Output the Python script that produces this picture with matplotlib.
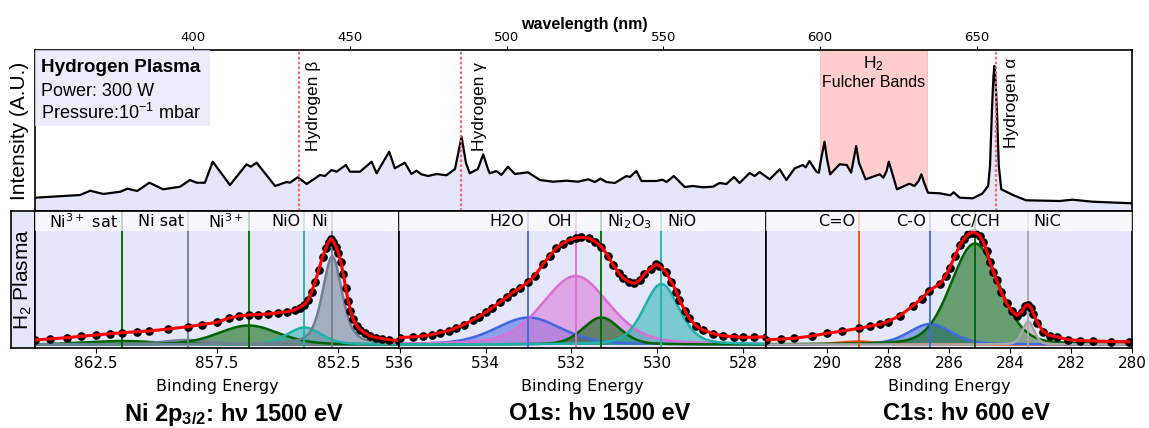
import numpy as np
import matplotlib
matplotlib.use('Agg')
import matplotlib.pyplot as plt
from matplotlib.patches import Rectangle

plt.rcParams['font.family'] = ['Liberation Sans', 'DejaVu Sans']
plt.rcParams['mathtext.fontset'] = 'custom'
plt.rcParams['mathtext.rm'] = 'Liberation Sans'
plt.rcParams['mathtext.bf'] = 'Liberation Sans:bold'
plt.rcParams['mathtext.it'] = 'Liberation Sans:italic'

# ---------------- Optical emission spectrum (top) ----------------
oes_wavelength = [349.5, 363.9, 367.1, 371.3, 376.7, 379.0, 382.1, 386.0, 390.4, 395.8,
                  398.9, 401.1, 403.7, 406.2, 411.7, 417.0, 418.3, 420.2, 426.1, 429.8,
                  430.8, 433.3, 436.2, 440.4, 442.0, 444.1, 445.7, 448.7, 450.0, 453.2,
                  456.9, 458.5, 462.5, 464.3, 467.5, 469.6, 471.2, 472.8, 474.9, 477.6,
                  480.8, 483.5, 485.6, 487.0, 488.2, 490.8, 492.5, 494.0, 494.6, 496.7,
                  498.3, 500.4, 502.6, 506.8, 510.6, 514.8, 519.1, 522.8, 526.0, 528.1,
                  529.9, 531.8, 534.5, 538.2, 539.3, 541.4, 543.0, 547.8, 549.7, 551.0,
                  553.3, 556.8, 559.4, 562.6, 565.8, 567.9, 570.1, 572.5, 574.3, 577.5,
                  579.1, 580.7, 583.9, 587.1, 589.2, 591.9, 594.5, 595.4, 596.6, 598.8,
                  599.6, 600.3, 601.4, 602.2, 603.2, 606.2, 608.5, 609.9, 610.6, 611.5,
                  612.4, 614.5, 619.0, 620.2, 621.2, 621.9, 622.8, 624.5, 628.5, 630.1,
                  631.4, 632.3, 633.2, 634.4, 638.1, 641.5, 642.6, 644.5, 648.7, 651.7,
                  653.6, 654.2, 654.8, 655.3, 655.6, 655.9, 656.4, 657.0, 657.8, 661.5,
                  665.7, 676.4, 680.5, 686.9, 699.5]
oes_intensity = [13.3, 16.0, 20.3, 17.0, 19.3, 22.3, 20.0, 28.3, 21.7, 24.3,
                 31.0, 28.3, 28.3, 49.3, 26.0, 46.7, 44.3, 48.3, 25.0, 29.0,
                 28.3, 33.7, 27.0, 36.0, 35.0, 41.0, 39.3, 46.0, 39.3, 39.3,
                 49.3, 37.7, 59.3, 42.7, 48.3, 37.0, 40.3, 36.7, 35.0, 37.0,
                 35.7, 42.0, 74.3, 48.0, 37.7, 42.0, 56.7, 42.0, 37.7, 40.0,
                 36.0, 44.3, 37.0, 38.7, 31.0, 29.3, 30.3, 29.3, 31.7, 29.0,
                 32.3, 29.0, 28.0, 35.0, 34.0, 40.0, 30.0, 30.0, 31.3, 29.0,
                 35.0, 24.0, 25.0, 23.7, 24.3, 28.0, 27.0, 34.0, 28.0, 38.0,
                 35.0, 39.0, 31.7, 41.7, 31.0, 42.7, 46.0, 43.7, 50.0, 39.3,
                 38.3, 52.0, 69.3, 52.0, 36.7, 46.7, 46.0, 38.3, 50.0, 65.0,
                 48.0, 31.7, 36.7, 33.3, 40.0, 49.3, 40.0, 21.7, 27.3, 25.0,
                 30.0, 36.7, 28.0, 18.3, 17.7, 15.7, 18.7, 13.3, 12.7, 17.3,
                 25.0, 45.0, 100.0, 135.0, 145.0, 135.0, 100.0, 45.0, 21.7, 16.0,
                 10.7, 10.0, 11.3, 9.3, 7.7]
h_lines = [433.6, 485.5, 656.2]
h_line_labels = ['Hydrogen β', 'Hydrogen γ', 'Hydrogen α']
h_label_wl = [438.3, 491.4, 661.1]
h_label_y = [0.373, 0.373, 0.391]
fulcher_range = [600.0, 634.0]
top_ticks = [400, 450, 500, 550, 600, 650]

# ---------------- XPS: Ni 2p3/2 ----------------
ni_energy = [865.0, 864.4, 863.7, 863.1, 862.5, 861.9, 861.4, 860.8, 860.3, 859.5,
             858.7, 858.1, 857.5, 857.0, 856.6, 856.2, 855.8, 855.4, 855.0, 854.6,
             854.3, 854.1, 853.9, 853.75, 853.6, 853.45, 853.3, 853.15, 853.0, 852.9,
             852.8, 852.7, 852.6, 852.5, 852.4, 852.3, 852.2, 852.1, 852.0, 851.9,
             851.75, 851.6, 851.4, 851.2, 850.95, 850.7, 850.4, 850.0]
ni_counts = [4.5, 5.6, 6.8, 8.2, 9.5, 10.8, 11.8, 12.8, 13.5, 15.5,
             17.8, 20.0, 22.2, 26.5, 28.5, 29.5, 30.0, 30.5, 31.8, 32.8,
             34.5, 37.0, 40.0, 44.5, 53.0, 63.0, 75.0, 88.0, 97.0, 102.5,
             105.8, 103.0, 98.0, 92.0, 83.0, 71.0, 57.0, 44.0, 34.0, 26.0,
             19.0, 15.0, 11.5, 8.5, 7.0, 6.0, 4.8, 3.8]
ni_labels = ['Ni$^{3+}$ sat', 'Ni sat', 'Ni$^{3+}$', 'NiO', 'Ni']
ni_centers = [861.4, 858.7, 856.2, 853.9, 852.75]
ni_heights = [3.5, 4.5, 19.0, 17.0, 88.0]
ni_fwhm = [3.5, 2.5, 2.9, 1.65, 0.95]
ni_lorentz = [0.2, 0.2, 0.2, 0.3, 0.5]
ni_colors = ['darkgreen', 'slategray', 'darkgreen', 'lightseagreen', 'slategray']
ni_align = ['right', 'right', 'right', 'right', 'right']
ni_ticks = [862.5, 857.5, 852.5]

# ---------------- XPS: O1s ----------------
o_energy = [536.0, 535.7, 535.46, 535.25, 535.07, 534.85, 534.68, 534.5, 534.3, 534.15,
            534.0, 533.85, 533.67, 533.5, 533.36, 533.2, 533.0, 532.85, 532.66, 532.5,
            532.35, 532.2, 532.04, 531.9, 531.77, 531.58, 531.45, 531.3, 531.15, 531.03,
            530.9, 530.8, 530.65, 530.53, 530.4, 530.3, 530.15, 530.02, 529.95, 529.8,
            529.67, 529.55, 529.48, 529.35, 529.25, 529.1, 528.93, 528.7, 528.47, 528.2,
            528.0, 527.75, 527.46]
o_counts = [6.8, 7.6, 8.5, 10.0, 11.8, 14.0, 16.8, 20.0, 24.5, 28.0,
            32.2, 36.5, 42.2, 47.5, 52.2, 56.5, 62.8, 69.0, 80.2, 89.0,
            96.2, 101.0, 104.5, 106.5, 107.2, 106.2, 103.0, 97.8, 89.0, 79.5,
            72.0, 66.8, 62.5, 61.2, 64.5, 70.2, 76.0, 80.2, 78.8, 73.0,
            62.8, 53.0, 44.5, 34.0, 26.2, 19.0, 14.5, 11.0, 8.8, 7.8,
            7.2, 7.2, 7.8]
o_labels = ['H2O', 'OH', 'Ni$_2$O$_3$', 'NiO']
o_centers = [533.0, 531.9, 531.3, 529.9]
o_heights = [27.0, 68.5, 27.0, 60.5]
o_fwhm = [1.8, 1.82, 1.0, 0.97]
o_lorentz = [0.3, 0.3, 0.2, 0.3]
o_colors = ['royalblue', 'orchid', 'darkgreen', 'lightseagreen']
o_align = ['right', 'right', 'left', 'left']
o_ticks = [536, 534, 532, 530, 528]

# ---------------- XPS: C1s ----------------
c_energy = [292.0, 291.5, 291.09, 290.5, 290.0, 289.5, 288.94, 288.6, 288.26, 288.0,
            287.6, 287.17, 286.9, 286.64, 286.29, 286.1, 285.97, 285.8, 285.64, 285.5,
            285.37, 285.25, 285.15, 285.0, 284.88, 284.77, 284.66, 284.55, 284.44, 284.3,
            284.11, 283.95, 283.78, 283.62, 283.5, 283.42, 283.3, 283.24, 283.1, 282.91,
            282.7, 282.47, 282.1, 281.7, 281.28, 280.7, 280.1]
c_counts = [4.5, 5.5, 6.2, 8.5, 11.2, 13.5, 16.2, 18.2, 20.2, 23.0,
            29.0, 39.0, 46.0, 54.0, 61.0, 69.0, 77.0, 89.0, 99.5, 106.0,
            110.3, 112.0, 112.0, 109.0, 103.0, 94.0, 83.0, 73.0, 64.5, 53.0,
            41.2, 34.0, 29.0, 32.5, 38.5, 40.0, 36.5, 31.0, 22.0, 12.8,
            9.0, 7.8, 4.8, 4.0, 3.5, 3.0, 2.8]
c_labels = ['C=O', 'C-O', 'CC/CH', 'NiC']
c_centers = [288.95, 286.62, 285.15, 283.4]
c_heights = [3.0, 20.5, 101.0, 23.0]
c_fwhm = [1.5, 1.64, 1.85, 0.45]
c_lorentz = [0.2, 0.3, 0.2, 0.3]
c_colors = ['orangered', 'royalblue', 'darkgreen', 'darkgray']
c_align = ['right', 'right', 'center', 'left']
c_ticks = [290, 288, 286, 284, 282, 280]

W, H = 1149, 428
fig = plt.figure(figsize=(W / 100, H / 100), dpi=100)


def box(x0, y0, x1, y1):
    return [x0 / W, (H - y1) / H, (x1 - x0) / W, (y1 - y0) / H]


LAV = '#e6e6fa'

# ---------------- top panel ----------------
ax = fig.add_axes(box(35, 50, 1132, 211))
ax.fill_between(oes_wavelength, 0, oes_intensity, color=LAV, zorder=1)
ax.plot(oes_wavelength, oes_intensity, color='black', lw=1.6, zorder=3,
        solid_joinstyle='round')
ax.axvspan(fulcher_range[0], fulcher_range[1], color='#ff9c9c', alpha=0.5, lw=0.8,
           zorder=0.5)
for wl, lab, lx, ly in zip(h_lines, h_line_labels, h_label_wl, h_label_y):
    ax.axvline(wl, color='#f26b6b', ls=(0, (1.2, 1.0)), lw=1.6, zorder=4)
    ax.text(lx, ly, lab, rotation=90, ha='center', va='bottom', fontsize=12.5,
            transform=ax.get_xaxis_transform())
ax.text(sum(fulcher_range) / 2, 0.915, 'H$_2$', ha='center', va='center', fontsize=12.5,
        transform=ax.get_xaxis_transform())
ax.text(sum(fulcher_range) / 2, 0.80, 'Fulcher Bands', ha='center', va='center',
        fontsize=11.5, transform=ax.get_xaxis_transform())
ax.add_patch(Rectangle((0, 0.528), 0.1595, 0.472, transform=ax.transAxes,
                       facecolor=LAV, alpha=0.75, edgecolor='none', zorder=5))
ax.text(0.0055, 0.863, 'Hydrogen Plasma', transform=ax.transAxes, fontsize=13.6,
        fontweight='bold', va='baseline', zorder=6)
ax.text(0.0055, 0.714, 'Power: 300 W', transform=ax.transAxes, fontsize=13,
        va='baseline', zorder=6)
ax.text(0.0055, 0.571, 'Pressure:10$^{-1}$ mbar', transform=ax.transAxes, fontsize=13,
        va='baseline', zorder=6)
ax.set_xlim(349.5, 699.5)
ax.set_ylim(0, 161)
ax.set_yticks([])
ax.xaxis.tick_top()
ax.set_xticks(top_ticks)
ax.tick_params(axis='x', labelsize=9.5, length=3, pad=1.5, labelfontfamily='DejaVu Sans')
ax.set_ylabel('Intensity (A.U.)', fontsize=15, labelpad=4)
for s in ax.spines.values():
    s.set_linewidth(1.2)
fig.text(584.5 / W, (H - 24) / H, 'wavelength (nm)', ha='center', va='center',
         fontsize=11.5, fontweight='bold')

# ---------------- H2 plasma label ----------------
lab_ax = fig.add_axes(box(11, 211, 35, 347.5))
lab_ax.set_facecolor(LAV)
lab_ax.set_xticks([])
lab_ax.set_yticks([])
for s in lab_ax.spines.values():
    s.set_linewidth(1.2)
lab_ax.text(0.5, 0.5, 'H$_2$ Plasma', rotation=90, ha='center', va='center',
            fontsize=15, transform=lab_ax.transAxes)


def pv(x, c, a, w, eta):
    g = np.exp(-4 * np.log(2) * ((x - c) / w) ** 2)
    lo = 1.0 / (1.0 + 4 * ((x - c) / w) ** 2)
    return a * ((1 - eta) * g + eta * lo)


def xps_panel(rect, xlim, energy, counts, labels, centers, heights, fwhm, lor, colors,
              align, ticks, title, title_x):
    a = fig.add_axes(rect)
    a.set_facecolor(LAV)
    xs = np.linspace(min(xlim), max(xlim), 800)
    for lab, c, h, w, e, col, al in zip(labels, centers, heights, fwhm, lor, colors, align):
        y = pv(xs, c, h, w, e)
        a.fill_between(xs, 0, y, color=col, alpha=0.55, lw=0, zorder=1)
        a.plot(xs, y, color=col, lw=1.8, zorder=2)
        a.axvline(c, color=col, lw=1.3, zorder=2.5)
        off = {'right': -3, 'left': 4, 'center': 0}[al]
        a.annotate(lab, (c, 0.92), xycoords=a.get_xaxis_transform(),
                   xytext=(off, 0), textcoords='offset points', ha=al, va='center',
                   fontsize=11.5, family='DejaVu Sans', math_fontfamily='dejavusans',
                   zorder=6)
    a.axhspan(113.5, 133.0, color='white', alpha=0.72, lw=0, zorder=4)
    a.plot(energy, counts, 'o', color='black', ms=5.2, zorder=3)
    a.plot(energy, counts, color='red', lw=2.2, zorder=3.5, solid_joinstyle='round')
    a.set_xlim(*xlim)
    a.set_ylim(-3, 133.5)
    a.set_yticks([])
    a.set_xticks(ticks)
    a.tick_params(axis='x', labelsize=11, length=3.5, pad=2.5,
                  labelfontfamily='DejaVu Sans')
    for s in a.spines.values():
        s.set_linewidth(1.2)
    cx = (rect[0] + rect[2] / 2)
    fig.text(cx, (H - 387) / H, 'Binding Energy', ha='center', va='center',
             fontsize=11.5, family='DejaVu Sans')
    fig.text(title_x / W, (H - 414) / H, title, ha='center', va='center',
             fontsize=17, fontweight='bold')
    return a


xps_panel(box(35, 211, 399, 347.5), (865.0, 850.0), ni_energy, ni_counts, ni_labels,
          ni_centers, ni_heights, ni_fwhm, ni_lorentz, ni_colors, ni_align, ni_ticks,
          r'Ni 2p$_{\mathbf{3/2}}$: hν 1500 eV', 234)
xps_panel(box(399, 211, 766, 347.5), (536.02, 527.46), o_energy, o_counts, o_labels,
          o_centers, o_heights, o_fwhm, o_lorentz, o_colors, o_align, o_ticks,
          'O1s: hν 1500 eV', 600)
xps_panel(box(766, 211, 1132, 347.5), (292.0, 280.0), c_energy, c_counts, c_labels,
          c_centers, c_heights, c_fwhm, c_lorentz, c_colors, c_align, c_ticks,
          'C1s: hν 600 eV', 966)

fig.savefig('out.png', dpi=100)
